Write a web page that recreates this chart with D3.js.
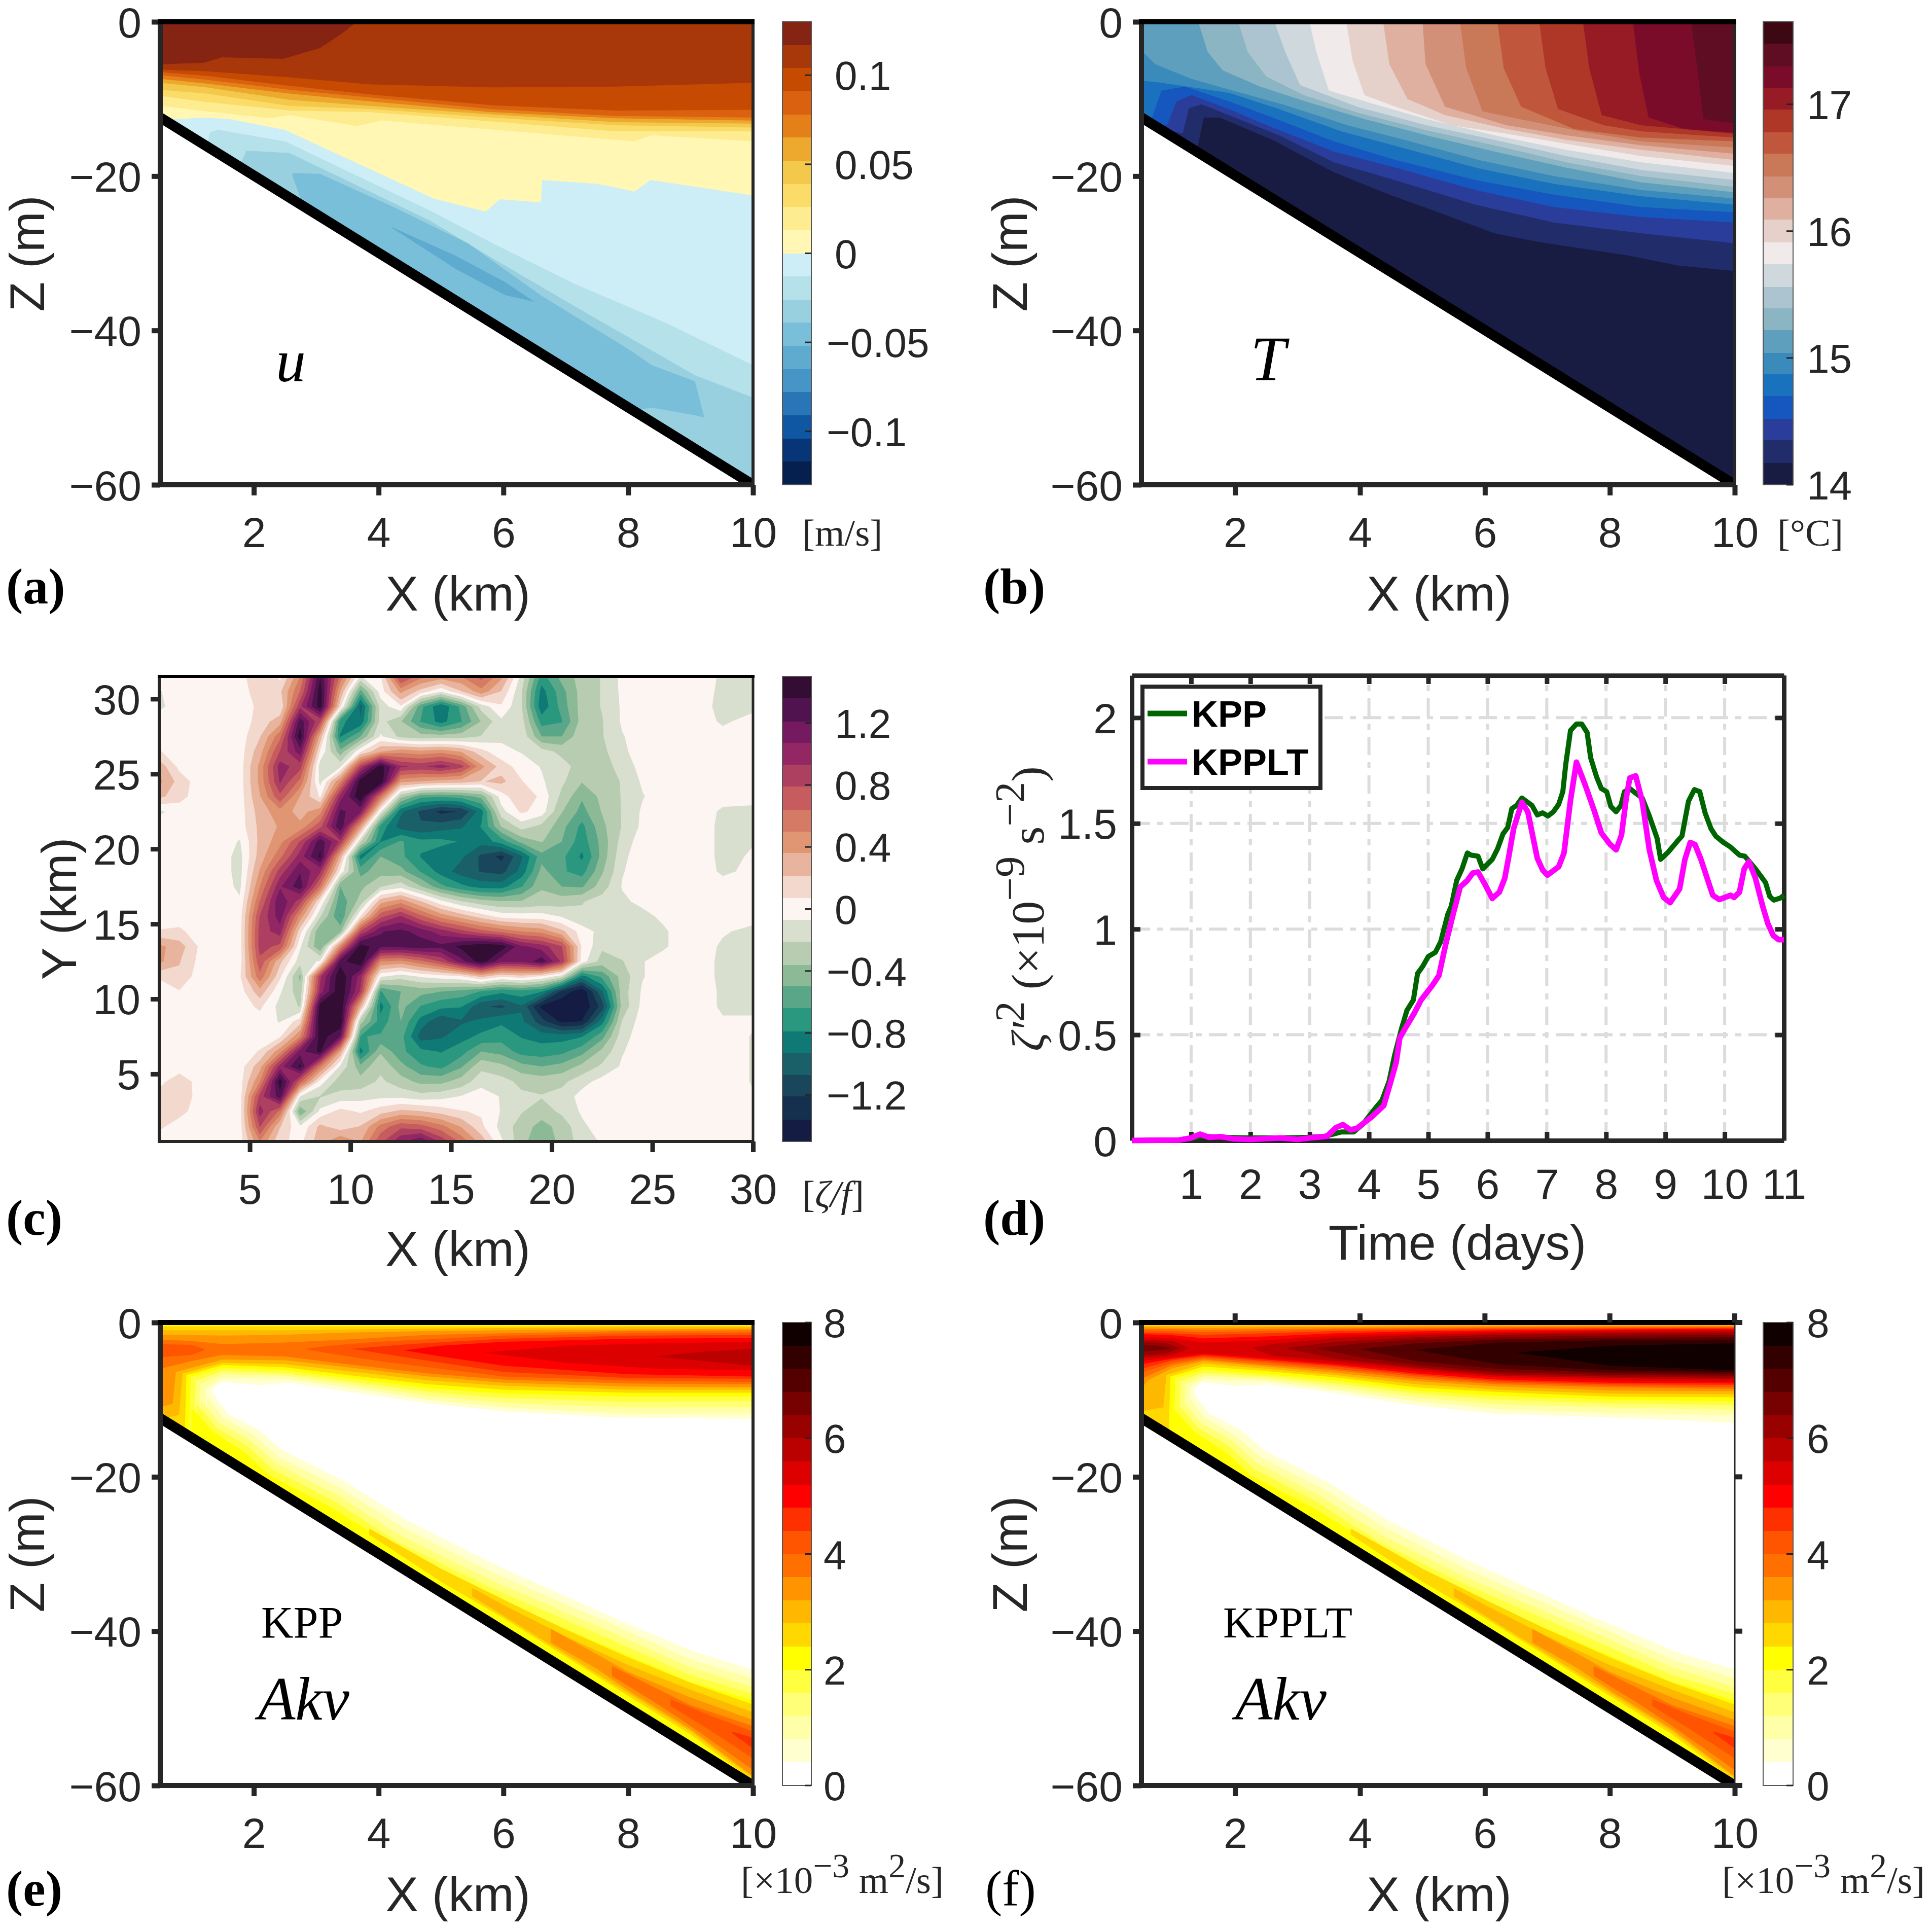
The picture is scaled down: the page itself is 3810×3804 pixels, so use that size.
<!DOCTYPE html>
<html lang="en">
<head>
    <meta charset="UTF-8">
    <title>Six panel front section</title>
    <script src="https://d3js.org/d3.v7.min.js"></script>
    <style>
        body { margin: 0; padding: 0; background: #fff; }
        text { font-family: "Liberation Sans", Arial, sans-serif; fill: #262626; }
        .tick text { font-size: 84px; }
        .serif { font-family: "Liberation Serif", "Times New Roman", serif; }
        .axis path, .axis line { stroke: #262626; fill: none; }
    </style>
</head>
<body>
    <svg width="3810" height="3804"></svg>
    <script>
        // ---- bed line of the sections
        const bedX = [0.5, 10];
        const bedZ = [-12.4, -60];

        const sectionXTicks = [2, 4, 6, 8, 10];
        const sectionZTicks = [0, -20, -40, -60];

        // ---- (a) u, band edges, colours, and isolines [x, z] from the band above the base up
        const uLevels = [-0.13, -0.117, -0.104, -0.091, -0.078, -0.065, -0.052, -0.039, -0.026, -0.013, 0,
            0.013, 0.026, 0.039, 0.052, 0.065, 0.078, 0.091, 0.104, 0.117, 0.13];
        const uColors = ["#051f4e", "#083576", "#0f57a3", "#2a75b5", "#4795c6", "#5fabd0", "#79bfd9", "#99d0df", "#b5e1ea", "#cdeef6",
            "#fff7b3", "#feec90", "#fbdc68", "#f4c84a", "#eda82e", "#e57f17", "#d9610f", "#c74a03", "#a83709", "#852412"];
        const uTicks = [-0.1, -0.05, 0, 0.05, 0.1];
        const uBase = 7;
        const uCurves = [
            [[0.5, -13], [1.7, -20], [1.88, -16.7], [2.57, -17], [3.5, -20.6], [4.83, -25.8], [5.9, -31], [7.3, -37.6], [9.07, -45.8], [10, -48.7]],
            [[0.5, -13], [1.25, -15.9], [1.3, -14.3], [1.43, -14], [2.5, -15.5], [4.83, -24.5], [5.9, -29], [7.15, -34], [8.6, -39], [10, -44.5]],
            [[0.5, -12.5], [0.84, -12.6], [1.19, -12.4], [1.6, -12.6], [2.5, -14], [4.88, -22.9], [5.72, -24.6], [5.94, -23], [6.6, -23.4], [6.62, -20.5], [7.5, -21], [8.1, -22], [8.36, -20.5], [10, -22.5]],
            [[0.5, -10.9], [1.24, -11.6], [2.27, -12.5], [2.57, -12.1], [3.65, -13.5], [4.05, -12.8], [4.98, -13.4], [8.09, -15.5], [8.38, -14.7], [10, -15.5]],
            [[0.5, -9.6], [1.24, -10.4], [2.57, -11.5], [3.85, -11.7], [5.8, -12.9], [7.8, -14.2], [10, -14.2]],
            [[0.5, -8.8], [1.24, -9.3], [2.57, -10.9], [3.85, -11.3], [5.8, -12.4], [7.8, -13.4], [10, -13.7]],
            [[0.5, -7.9], [1.24, -8.5], [2.57, -10.1], [3.85, -10.9], [5.8, -12], [7.8, -13], [10, -13.2]],
            [[0.5, -7.4], [1.24, -8], [2.57, -9.3], [3.85, -10.3], [5.8, -11.7], [7.8, -12.5], [10, -12.8]],
            [[0.5, -6.9], [1.24, -7.5], [2.57, -8.8], [3.85, -9.8], [5.8, -11.3], [7.8, -12.2], [10, -12.4]],
            [[0.5, -6.5], [1.24, -7], [2.57, -8.3], [3.85, -9.4], [5.8, -10.8], [7.8, -11.5], [10, -11.4]],
            [[0.5, -6.2], [1.24, -6.4], [2.57, -7.2], [3.85, -8.1], [5.8, -8.5], [7.8, -8.4], [10, -7.9]],
            [[0.5, -5.5], [1.2, -5.3], [1.49, -4.6], [2.47, -4.8], [3.06, -3.4], [3.4, -1.6], [3.65, 0]]
        ];
        // closed lenses near the bed: [x, upper z, lower z]
        const uLensOuter = [[2.62, -19.6, -20], [3.06, -19.7, -30], [4.24, -24, -40], [5.43, -28.7, -45], [6.61, -35.5, -47], [8, -42.4, -50.5], [8.38, -44.5, -50], [9.07, -46.6, -51], [9.22, -51.3, -51.3]];
        const uLensInner = [[4.21, -26.6, -26.7], [5.23, -30.3, -32], [6.02, -33.7, -35.4], [6.5, -36.3, -36.3]];

        // ---- (b) T
        const tLevels = [14, 14.17, 14.35, 14.52, 14.7, 14.87, 15.04, 15.22, 15.39, 15.56, 15.74, 15.91,
            16.09, 16.26, 16.43, 16.61, 16.78, 16.96, 17.13, 17.3, 17.48, 17.65];
        const tColors = ["#181c43", "#212c6b", "#2b3d9b", "#1657bf", "#1a72bf", "#3a8abb", "#5d9fbd", "#8cb5c4", "#acc4cf", "#cfd8dc", "#f0eaea",
            "#e5d1ca", "#dfb0a0", "#d39078", "#c97858", "#c0573c", "#ae3727", "#971b25", "#7a0c2a", "#5e0d22", "#3c0912"];
        const tTicks = [14, 15, 16, 17];
        const tBase = 0;
        const tCurves = [
            [[0.5, -13], [1.35, -17], [1.41, -15.8], [1.5, -12.4], [1.75, -12.4], [2.6, -15.3], [3.58, -19.5], [4.47, -22.4], [5.36, -25], [6.15, -27.4], [6.84, -28.5], [8.3, -30.3], [9.1, -31.6], [10, -32.3]],
            [[0.5, -13], [1.16, -14.5], [1.26, -11.2], [1.46, -10.7], [1.9, -12.1], [2.7, -14.7], [3.58, -18.2], [4.47, -20.3], [5.85, -23.7], [7.1, -26], [8.5, -27.4], [10, -28.7]],
            [[0.5, -13], [0.91, -13.4], [1.06, -10.3], [1.3, -9.5], [1.9, -11.3], [2.6, -13.7], [3.58, -16.8], [4.57, -18.9], [5.85, -21.8], [7.1, -24], [8.5, -25.3], [10, -26]],
            [[0.5, -13], [0.67, -12.4], [0.82, -8.9], [1.2, -8.4], [1.9, -10.3], [2.6, -12.4], [3.58, -15.5], [4.57, -17.9], [5.85, -20.5], [7.1, -22.4], [8.5, -24], [10, -24.7]],
            [[0.5, -7.6], [0.82, -7.9], [1.9, -9.2], [2.7, -11.3], [3.7, -14.2], [4.8, -16.6], [5.9, -19], [7.1, -21], [8.5, -22.6], [10, -23.7]],
            [[0.5, -3.7], [0.72, -5.5], [1.3, -7.4], [2, -9], [2.8, -10.8], [3.8, -13.4], [4.8, -15.5], [5.9, -17.9], [7.1, -20], [8.5, -21.8], [10, -22.9]],
            [[1.41, 0], [1.56, -3.9], [1.8, -6.3], [2.4, -8.4], [3.2, -10.5], [4.07, -12.6], [5.06, -14.7], [6.15, -16.8], [7.3, -18.9], [8.5, -20.8], [10, -22.1]],
            [[2.05, 0], [2.2, -3.9], [2.5, -7.1], [3.1, -9.5], [3.97, -11.8], [5.06, -14.05], [6.15, -16], [7.3, -18.2], [8.5, -20], [10, -21.4]],
            [[2.63, 0], [2.8, -3.9], [3.04, -8.2], [3.97, -11.05], [5.06, -13.4], [6.15, -15.3], [7.3, -17.4], [8.5, -19.2], [10, -20.5]],
            [[3.19, 0], [3.3, -3.9], [3.5, -8.9], [4.07, -10.3], [5.06, -12.6], [6.15, -14.7], [7.3, -16.6], [8.5, -18.2], [10, -19.6]],
            [[3.78, 0], [3.88, -5], [4.07, -9.5], [4.57, -11], [5.46, -13.4], [6.35, -14.5], [7.3, -15.8], [8.5, -17.4], [10, -18.7]],
            [[4.37, 0], [4.47, -5.5], [4.76, -10], [5.36, -12.1], [6.35, -13.9], [7.3, -15.3], [8.5, -16.6], [10, -17.9]],
            [[5, 0], [5.05, -5.5], [5.36, -11], [6.35, -13.4], [7.3, -14.7], [8.5, -16], [10, -17.1]],
            [[5.6, 0], [5.7, -6], [5.96, -11.6], [6.55, -12.6], [7.53, -14.2], [8.5, -15.5], [10, -16.3]],
            [[6.2, 0], [6.3, -6], [6.58, -11], [7.43, -13.9], [8.5, -15], [10, -15.5]],
            [[6.87, 0], [6.97, -6], [7.17, -11.3], [7.9, -13.4], [8.5, -14.2], [10, -15]],
            [[7.57, 0], [7.67, -6], [7.87, -12.1], [8.5, -13.4], [10, -14.5]],
            [[8.37, 0], [8.47, -6.6], [8.62, -12.4], [9.2, -13.9], [10, -14.4]],
            [[9.3, 0], [9.4, -6], [9.5, -12.6], [10, -13.2]]
        ];

        // ---- (c) surface vorticity, grid in hundredths of f, top row first
        const vortX = [0.5, 1.5, 2.5, 3.5, 4.5, 5.5, 6.5, 7.5, 8.5, 9.5, 10.5, 11.5, 12.5, 13.5, 14.5, 15.5, 16.5, 17.5, 18.5, 19.5, 20.5, 21.5, 22.5, 23.5, 24.5, 25.5, 26.5, 27.5, 28.5, 30];
        const vortY = [31.5, 30.5, 29.5, 28.5, 27.5, 26.5, 25.5, 24.5, 23.5, 22.5, 21.5, 20.5, 19.5, 18.5, 17.5, 16.5, 15.5, 14.5, 13.5, 12.5, 11.5, 10.5, 9.5, 8.5, 7.5, 6.5, 5.5, 4.5, 3.5, 2.5, 1.5, 0.5];
        const vortGrid = [
            [0, 0, 0, 0, 0, 22, 3, 50, 135, 60, -8, 5, 85, 55, 45, 50, 70, 40, -12, -70, -45, -30, -20, -3, 0, 0, 0, 0, -10, -10],
            [-8, 0, 0, 0, 0, 15, 18, 65, 145, 35, -55, 0, 40, 15, -5, 20, 45, 20, -20, -85, -55, -30, -20, -4, 0, 0, 0, 0, -12, -12],
            [-10, 0, 0, 0, 0, 10, 8, 90, 145, 10, -100, -15, 5, -60, -92, -60, -15, 5, -20, -90, -58, -30, -20, -5, 0, 0, 0, 0, -15, -12],
            [0, 0, 0, 0, 0, 12, 30, 130, 80, -75, -90, -15, -35, -65, -85, -65, -35, -10, -15, -70, -65, -30, -22, -5, 0, 0, 0, 0, -10, 0],
            [0, 0, 0, 0, 0, 20, 60, 145, 30, -80, -50, -5, -25, -30, -30, -28, -20, -10, -10, -50, -50, -25, -22, -8, 0, 0, 0, 0, 0, 0],
            [8, 0, 0, 0, 0, 30, 80, 115, 5, -45, 5, 35, 45, 40, 45, 35, 12, -3, -8, -15, -25, -25, -25, -10, 0, 0, 0, 0, 0, 0],
            [30, 3, 0, 0, 0, 40, 100, 85, -15, -10, 85, 145, 95, 90, 100, 85, 40, 15, 0, -8, -15, -28, -28, -15, -2, 0, 0, 0, 0, 0],
            [40, 15, 0, 0, 0, 40, 95, 60, -12, 50, 145, 150, 40, 35, 30, 28, 20, 25, 8, -5, -18, -35, -28, -20, -5, 0, 0, 0, 0, 0],
            [25, 12, 0, 0, 0, 35, 75, 35, 5, 100, 150, 60, -30, -60, -62, -58, -45, 0, 20, 3, -25, -48, -32, -20, -8, 0, 0, 0, 0, 0],
            [-10, 0, 0, 0, 0, 28, 45, 30, 45, 125, 110, -5, -90, -110, -125, -120, -85, -12, 10, 0, -35, -55, -35, -20, -5, 0, 0, 0, -10, -12],
            [0, 0, 0, 0, 0, 25, 38, 40, 75, 135, 40, -70, -100, -105, -100, -95, -78, -35, -15, -25, -45, -68, -40, -20, -4, 0, 0, 0, -12, -12],
            [0, 0, 0, 0, -8, 25, 45, 80, 130, 90, -20, -80, -62, -75, -75, -80, -88, -72, -45, -35, -50, -72, -45, -15, 0, 0, 0, 0, -12, -8],
            [0, 0, 0, 0, -12, 28, 60, 100, 140, 30, -85, -50, -60, -80, -88, -90, -110, -125, -95, -55, -60, -82, -45, -10, 0, 0, 0, 0, -12, -5],
            [0, 0, 0, 0, -12, 38, 85, 120, 95, 2, -55, -42, -45, -65, -85, -100, -108, -112, -88, -45, -62, -70, -38, -8, 0, 0, 0, 0, -10, -3],
            [0, 0, 0, 0, -10, 50, 105, 130, 60, -50, -40, -22, -12, -35, -60, -75, -85, -85, -65, -38, -50, -52, -28, -6, 0, 0, 0, 0, 0, 0],
            [0, 0, 0, 0, -5, 65, 120, 85, 5, -60, -30, 30, 45, 22, -3, -20, -30, -35, -35, -30, -28, -22, -15, -10, -3, 0, 0, 0, 0, 0],
            [0, 0, 0, 0, 0, 80, 115, 45, -20, -65, 8, 75, 95, 68, 45, 30, 15, 2, 0, 0, -8, -18, -15, -15, -12, -4, 0, 0, 0, 0],
            [8, 10, 0, 0, 0, 85, 100, 12, -50, -40, 80, 120, 125, 115, 100, 85, 70, 60, 50, 45, 25, 0, -12, -12, -12, -10, 0, 0, -5, -12],
            [40, 28, 5, 0, 0, 85, 75, -5, -50, 50, 145, 125, 125, 130, 125, 140, 150, 145, 110, 100, 80, 5, -18, -12, -12, -10, 0, 0, -10, -15],
            [40, 22, 3, 0, 0, 75, 25, -15, -5, 130, 150, 50, 45, 60, 80, 115, 145, 110, 110, 130, 90, 0, -28, -22, -8, 0, 0, 0, -12, -15],
            [10, 18, 0, 0, 5, 60, 10, -40, 90, 150, 100, -5, -15, -5, 0, 5, 25, 8, 15, 5, -15, -85, -60, -30, -8, 0, 0, 0, -12, -15],
            [-5, 6, 0, 0, 0, 30, -5, -30, 100, 150, 90, -65, -50, -45, -50, -55, -65, -75, -70, -78, -125, -148, -95, -28, -5, 0, 0, 0, -10, -10],
            [0, 0, 0, 0, 0, 10, -12, -22, 145, 150, 30, -85, -45, -65, -75, -78, -105, -110, -95, -140, -150, -150, -115, -30, -3, 0, 0, 0, -10, -10],
            [0, 0, 0, 0, 0, 0, -8, 15, 150, 150, -30, -72, -50, -85, -105, -95, -90, -82, -90, -115, -140, -135, -85, -20, 0, 0, 0, 0, -5, -5],
            [0, 0, 0, 0, 0, 0, 5, 50, 145, 120, -65, -62, -58, -100, -95, -85, -75, -70, -80, -85, -85, -80, -55, -12, 0, 0, 0, 0, 0, -8],
            [0, 0, 0, 0, 0, 8, 45, 115, 140, 35, -85, -38, -60, -75, -80, -70, -50, -55, -70, -72, -68, -55, -32, -8, 0, 0, 0, 0, 0, -8],
            [0, 0, 0, 0, 0, 30, 100, 140, 55, -10, -45, -25, -45, -62, -68, -52, -25, -32, -45, -50, -45, -32, -18, -5, 0, 0, 0, 0, 0, -8],
            [3, 15, 2, 0, 0, 50, 145, 70, 0, -30, -30, -18, -30, -40, -40, -30, -12, -15, -25, -28, -25, -12, -2, 0, 0, 0, 0, 0, 0, -8],
            [12, 20, 0, 0, 0, 85, 130, -8, -22, -15, -12, -10, -10, -15, -12, -6, 0, -8, -18, -20, -15, -2, 0, 0, 0, 0, 0, 0, 0, -6],
            [15, 12, 0, 0, 0, 100, 60, -50, -3, 12, 5, 15, 25, 22, 15, 8, 5, -8, -20, -28, -18, -5, 0, 0, 0, 0, 0, 0, 0, -5],
            [10, 0, 0, 0, 0, 80, 22, -5, 25, 12, 22, 55, 75, 70, 55, 35, 10, -12, -28, -42, -30, -10, 0, 0, 0, 0, 0, 0, 0, -3],
            [0, 0, 0, 0, 0, 50, 10, 3, 30, 50, 35, 75, 105, 120, 90, 60, 30, -5, -30, -50, -30, -15, -5, 0, 0, 0, 0, 0, 0, 0]
        ];
        const vortLevels = [-1.5, -1.36, -1.21, -1.07, -0.93, -0.79, -0.64, -0.5, -0.36, -0.21, -0.07, 0.07, 0.21, 0.36, 0.5, 0.64, 0.79, 0.93, 1.07, 1.21, 1.36, 1.5];
        const vortColors = ["#141c44", "#15304f", "#1a465b", "#196069", "#0f7a75", "#2a977f", "#5aa688", "#8cba97", "#b8ccb2", "#d9dfce", "#fdf5f2",
            "#f2d8cd", "#e8b49e", "#e19673", "#d47a65", "#c65c5e", "#ad3f60", "#922763", "#751a60", "#511350", "#340d35"];
        const vortTicks = [-1.2, -0.8, -0.4, 0, 0.4, 0.8, 1.2];
        const vortXTicks = [5, 10, 15, 20, 25, 30];
        const vortYTicks = [5, 10, 15, 20, 25, 30];

        // ---- (d) time series
        const kppDays = [0, 0.8, 1, 1.2, 1.5, 2, 2.5, 3, 3.26, 3.53, 3.74, 3.89, 4.1, 4.22, 4.34, 4.43, 4.55, 4.64, 4.75, 4.82, 4.91, 5, 5.12, 5.21, 5.33, 5.39, 5.48, 5.57, 5.66, 5.72, 5.84, 5.92, 6.08, 6.17, 6.26, 6.34, 6.41, 6.49, 6.58, 6.75, 6.84, 6.93, 7.02, 7.11, 7.2, 7.27, 7.32, 7.4, 7.5, 7.59, 7.68, 7.74, 7.84, 7.92, 8.01, 8.08, 8.17, 8.25, 8.31, 8.4, 8.49, 8.61, 8.73, 8.86, 8.92, 9.05, 9.2, 9.28, 9.39, 9.49, 9.58, 9.67, 9.77, 9.85, 9.98, 10.09, 10.25, 10.34, 10.52, 10.69, 10.76, 10.83, 10.94, 11];
        const kppVals = [0, 0.003, 0.01, 0.02, 0.015, 0.012, 0.012, 0.015, 0.02, 0.04, 0.04, 0.075, 0.15, 0.19, 0.28, 0.4, 0.53, 0.615, 0.665, 0.79, 0.825, 0.87, 0.89, 0.94, 1.07, 1.11, 1.23, 1.285, 1.36, 1.35, 1.345, 1.285, 1.33, 1.38, 1.45, 1.48, 1.57, 1.585, 1.62, 1.585, 1.54, 1.55, 1.535, 1.555, 1.59, 1.65, 1.78, 1.94, 1.97, 1.97, 1.93, 1.81, 1.72, 1.665, 1.65, 1.58, 1.555, 1.585, 1.65, 1.665, 1.645, 1.62, 1.535, 1.43, 1.33, 1.365, 1.415, 1.44, 1.605, 1.66, 1.65, 1.55, 1.475, 1.44, 1.41, 1.39, 1.35, 1.345, 1.285, 1.22, 1.155, 1.137, 1.147, 1.16];
        const ltDays = [0, 0.8, 1, 1.15, 1.3, 1.5, 1.7, 2, 2.5, 2.8, 3, 3.29, 3.44, 3.56, 3.69, 3.8, 4.04, 4.25, 4.37, 4.46, 4.52, 4.61, 4.76, 4.88, 5.06, 5.18, 5.3, 5.42, 5.54, 5.66, 5.75, 5.84, 5.96, 6.08, 6.2, 6.29, 6.35, 6.44, 6.58, 6.68, 6.84, 6.93, 7.01, 7.2, 7.29, 7.4, 7.5, 7.65, 7.8, 7.92, 8.07, 8.17, 8.26, 8.34, 8.4, 8.5, 8.61, 8.73, 8.85, 8.97, 9.08, 9.24, 9.33, 9.42, 9.5, 9.6, 9.8, 9.91, 10.1, 10.16, 10.25, 10.33, 10.41, 10.52, 10.64, 10.73, 10.82, 10.91, 11];
        const ltVals = [0, 0.002, 0.012, 0.03, 0.015, 0.018, 0.008, 0.005, 0.012, 0.005, 0.012, 0.02, 0.06, 0.075, 0.05, 0.058, 0.11, 0.165, 0.28, 0.37, 0.485, 0.53, 0.6, 0.665, 0.73, 0.78, 0.935, 1.07, 1.2, 1.23, 1.265, 1.27, 1.21, 1.145, 1.175, 1.24, 1.33, 1.475, 1.6, 1.555, 1.335, 1.28, 1.255, 1.295, 1.36, 1.61, 1.79, 1.68, 1.56, 1.455, 1.4, 1.375, 1.445, 1.62, 1.715, 1.725, 1.605, 1.375, 1.23, 1.15, 1.125, 1.19, 1.33, 1.41, 1.4, 1.33, 1.16, 1.14, 1.16, 1.15, 1.175, 1.285, 1.32, 1.24, 1.11, 1.025, 0.97, 0.95, 0.95];
        const dayTicks = [1, 2, 3, 4, 5, 6, 7, 8, 9, 10, 11];
        const enstTicks = [0, 0.5, 1, 1.5, 2];

        // ---- (e, f) Akv, per band: list of [x, upper z, lower z] patches in the surface layer
        const akvLevels = [0, 0.4, 0.8, 1.2, 1.6, 2, 2.4, 2.8, 3.2, 3.6, 4, 4.4, 4.8, 5.2, 5.6, 6, 6.4, 6.8, 7.2, 7.6, 8];
        const akvColors = ["#ffffff", "#ffffd0", "#ffffa8", "#ffff78", "#ffff40", "#ffff00", "#ffd800", "#ffb800", "#ff9400", "#ff7000", "#ff5500",
            "#ff3000", "#ff0000", "#dd0000", "#bb0000", "#990000", "#770000", "#550000", "#330000", "#100000"];
        const akvTicks = [0, 2, 4, 6, 8];
        const kppTop = [
            [[[0.5, 0, -18], [1.3, 0, -18], [1.34, 0, -8.5], [1.49, 0, -7.7], [2.08, 0, -8.1], [2.57, 0, -7.8], [3.46, 0, -8.9], [4.83, 0, -10.5], [6, 0, -11.5], [7.8, 0, -12.3], [10, 0, -12.5]]],
            [[[0.5, 0, -18], [1.2, 0, -18], [1.24, 0, -8.6], [1.5, 0, -7.2], [2.5, 0, -7.3], [3.5, 0, -8.4], [4.8, 0, -10], [6, 0, -11], [8, 0, -11.8], [10, 0, -11.8]]],
            [[[0.5, 0, -18], [1.1, 0, -18], [1.14, 0, -8], [1.5, 0, -6.7], [2.5, 0, -6.9], [3.5, 0, -8], [4.8, 0, -9.5], [6, 0, -10.4], [8, 0, -11], [10, 0, -11]]],
            [[[0.5, 0, -18], [1.03, 0, -18], [1.07, 0, -7.5], [1.5, 0, -6.3], [2.5, 0, -6.6], [3.5, 0, -7.6], [4.8, 0, -9], [6, 0, -9.8], [8, 0, -10.3], [10, 0, -10.2]]],
            [[[0.5, -0.2, -18], [0.95, -0.2, -18], [0.99, -0.2, -7], [1.5, -0.2, -5.9], [2.5, -0.2, -6.2], [3.5, -0.2, -7.2], [4.8, -0.2, -8.5], [6, -0.2, -9.2], [8, -0.2, -9.6], [10, -0.2, -9.6]]],
            [[[0.5, -0.5, -18], [0.88, -0.5, -18], [0.92, -0.5, -6.8], [1.5, -0.5, -5.5], [2.5, -0.5, -5.8], [3.5, -0.5, -6.8], [4.8, -0.5, -8], [6, -0.5, -8.7], [8, -0.4, -9.1], [10, -0.4, -9.1]]],
            [[[0.5, -1, -12.5], [0.8, -1, -12], [0.86, -1, -6.6], [1.5, -1, -5.2], [2.5, -1, -5.4], [3.5, -0.9, -6.3], [4.8, -0.8, -7.5], [6, -0.7, -8.2], [8, -0.6, -8.7], [10, -0.6, -8.7]]],
            [[[0.5, -1.6, -11], [0.7, -1.6, -10.5], [0.75, -1.6, -6.4], [1.5, -1.7, -4.8], [2.5, -1.6, -4.9], [3.5, -1.3, -5.8], [4.8, -1.1, -7], [6, -1, -7.8], [8, -0.9, -8.3], [10, -0.8, -8.4]]],
            [[[0.5, -2.2, -6], [1, -2.4, -5], [1.5, -2.8, -4.2], [2.5, -2.6, -4.4], [3.5, -2.2, -5.4], [4.8, -1.6, -6.6], [6, -1.4, -7.4], [8, -1.1, -7.9], [10, -1, -8]]],
            [[[0.5, -2.8, -4.5], [1, -2.9, -4.2], [1.2, -3.4, -3.6]],
             [[2.86, -3.4, -3.5], [3.2, -3, -4], [4, -2.5, -5], [6, -1.7, -7], [8, -1.4, -7.5], [10, -1.3, -7.7]]],
            [[[3.57, -3.4, -3.4], [4.5, -2.8, -4.6], [6, -2.1, -6.4], [8, -1.7, -7.2], [10, -1.6, -7.3]]],
            [[[4.4, -3.6, -3.6], [5, -3, -4.4], [6, -2.5, -5.6], [8, -2.1, -6.7], [10, -2, -7]]],
            [[[5.67, -3.9, -3.9], [7, -3, -5.2], [8.5, -2.7, -6], [10, -2.5, -6.2]]],
            [[[8.43, -4.4, -4.4], [9.2, -3.8, -5], [10, -3.4, -5.6]]]
        ];
        const ltTop = [
            [[[0.5, 0, -18], [1.32, 0, -18], [1.36, 0, -8.5], [1.46, 0, -7.7], [2, 0, -8.2], [2.5, 0, -8], [3.58, 0, -9.1], [4.86, 0, -10.7], [6.15, 0, -11.8], [8, 0, -12.3], [10, 0, -13]]],
            [[[0.5, 0, -18], [1.25, 0, -18], [1.28, 0, -8.3], [1.5, 0, -7.3], [2.5, 0, -7.6], [3.6, 0, -8.7], [4.9, 0, -10.2], [6.2, 0, -11.2], [8, 0, -11.7], [10, 0, -12]]],
            [[[0.5, 0, -18], [1.17, 0, -18], [1.2, 0, -8], [1.5, 0, -6.9], [2.5, 0, -7.3], [3.6, 0, -8.3], [4.9, 0, -9.7], [6.2, 0, -10.6], [8, 0, -11], [10, 0, -11.3]]],
            [[[0.5, 0, -18], [1.09, 0, -18], [1.12, 0, -7.6], [1.5, 0, -6.5], [2.5, 0, -7], [3.6, 0, -7.9], [4.9, 0, -9.2], [6.2, 0, -10], [8, 0, -10.5], [10, 0, -10.7]]],
            [[[0.5, -0.15, -18], [1.01, -0.15, -18], [1.04, -0.15, -7.2], [1.5, -0.15, -6.1], [2.5, -0.15, -6.7], [3.6, -0.15, -7.5], [4.9, -0.15, -8.8], [6.2, -0.15, -9.5], [8, -0.15, -10], [10, -0.15, -10.2]]],
            [[[0.5, -0.3, -18], [0.93, -0.3, -18], [0.96, -0.3, -7], [1.5, -0.3, -5.7], [2.5, -0.3, -6.3], [3.6, -0.25, -7.1], [4.9, -0.25, -8.4], [6.2, -0.2, -9], [8, -0.2, -9.6], [10, -0.2, -9.7]]],
            [[[0.5, -0.45, -11.5], [0.85, -0.45, -11], [0.9, -0.45, -6.8], [1.5, -0.45, -5.3], [2.5, -0.4, -6], [3.6, -0.4, -6.8], [4.9, -0.35, -8], [6.2, -0.3, -8.7], [8, -0.3, -9.2], [10, -0.3, -9.3]]],
            [[[0.5, -0.6, -8.6], [0.6, -0.6, -7.5], [1, -0.65, -5.9], [1.5, -0.7, -5], [2.5, -0.6, -5.7], [3.6, -0.55, -6.5], [4.9, -0.5, -7.6], [6.2, -0.45, -8.3], [8, -0.4, -8.8], [10, -0.4, -8.9]]],
            [[[0.5, -0.8, -7.3], [1, -0.85, -5.5], [1.5, -0.95, -4.8], [2.5, -0.85, -5.5], [3.6, -0.75, -6.2], [4.9, -0.65, -7.3], [6.2, -0.6, -8], [8, -0.55, -8.4], [10, -0.5, -8.6]]],
            [[[0.5, -1, -6.5], [1, -1.1, -5.2], [1.5, -1.25, -4.6], [2.5, -1.1, -5.2], [3.6, -0.9, -6], [4.9, -0.8, -7], [6.2, -0.7, -7.8], [8, -0.65, -8.2], [10, -0.6, -8.4]]],
            [[[0.5, -1.3, -6], [1, -1.4, -4.9], [1.5, -1.6, -4.4], [2.5, -1.4, -5], [3.6, -1.1, -5.7], [4.9, -0.95, -6.8], [6.2, -0.85, -7.6], [8, -0.75, -8], [10, -0.7, -8.1]]],
            [[[0.5, -1.5, -5.4], [1, -1.65, -4.7], [1.5, -2.05, -4.2], [2.5, -1.8, -4.8], [3.6, -1.4, -5.5], [4.9, -1.15, -6.6], [6.2, -1, -7.4], [8, -0.9, -7.8], [10, -0.8, -7.9]]],
            [[[0.5, -1.9, -5], [1, -2, -4.5], [1.5, -2.6, -4], [2.5, -2.3, -4.6], [3.6, -1.7, -5.3], [4.9, -1.4, -6.3], [6.2, -1.2, -7.1], [8, -1, -7.5], [10, -0.9, -7.7]]],
            [[[0.5, -2.2, -4.6], [1, -2.4, -4.2], [1.25, -3.2, -3.4]],
             [[2.3, -3.2, -3.4], [2.6, -2.8, -4.3], [3.6, -2, -5], [4.9, -1.6, -6], [6.2, -1.4, -6.9], [8, -1.2, -7.2], [10, -1.1, -7.4]]],
            [[[0.5, -2.5, -4.3], [0.9, -2.7, -4], [1.1, -3.3, -3.4]],
             [[2.84, -3.3, -3.4], [3.6, -2.5, -4.7], [4.9, -1.9, -5.8], [6.2, -1.6, -6.7], [8, -1.4, -7], [10, -1.3, -7.2]]],
            [[[0.5, -2.9, -3.8], [0.75, -3, -3.6], [0.95, -3.3, -3.4]],
             [[3.33, -3.3, -3.4], [4, -2.7, -4.5], [4.9, -2.2, -5.5], [6.2, -1.9, -6.4], [8, -1.7, -6.8], [10, -1.6, -6.9]]],
            [[[4.02, -3.4, -3.5], [4.9, -2.7, -5], [6.2, -2.2, -6], [8, -2, -6.5], [10, -1.9, -6.7]]],
            [[[4.91, -3.5, -3.6], [6.2, -2.6, -5.4], [8, -2.3, -6.2], [10, -2.2, -6.4]]],
            [[[6.5, -3.9, -3.9], [8, -3, -5.6], [10, -2.7, -6.2]]]
        ];
        // bottom boundary layer, nearly the same in both runs
        const akvBottom = [
            [[1.34, -9.1, -60], [1.58, -11.8, -60], [2.08, -13.9, -60], [2.47, -16.6, -60], [3.46, -20.6, -60], [4.44, -25.6, -60], [5.82, -31.2, -60], [7.8, -38.4, -60], [9.07, -42.7, -60], [10, -45, -60]],
            [[1.25, -9.5, -60], [1.5, -12.3, -60], [2, -14.6, -60], [2.4, -17.4, -60], [3.4, -21.5, -60], [4.4, -26.6, -60], [5.8, -32.3, -60], [7.8, -39.3, -60], [9, -43.7, -60], [10, -46.1, -60]],
            [[1.15, -10, -60], [1.45, -13, -60], [1.95, -15.3, -60], [2.35, -18.2, -60], [3.35, -22.4, -60], [4.35, -27.6, -60], [5.75, -33.2, -60], [7.75, -40.2, -60], [9, -44.7, -60], [10, -47.2, -60]],
            [[1.08, -10.5, -60], [1.4, -13.6, -60], [1.9, -16, -60], [2.3, -19, -60], [3.3, -23.2, -60], [4.3, -28.4, -60], [5.7, -34, -60], [7.7, -41, -60], [9, -45.7, -60], [10, -48.1, -60]],
            [[1, -11, -60], [1.35, -14.2, -60], [1.85, -16.8, -60], [2.25, -19.8, -60], [3.25, -24, -60], [4.25, -29, -60], [5.6, -34.8, -60], [7.6, -41.8, -60], [9, -46.6, -60], [10, -49, -60]],
            [[3.85, -26.7, -27.5], [5, -31.9, -33.6], [6, -35.9, -38.3], [7, -39.8, -43.3], [8, -43.4, -48.4], [9, -46.7, -53.4], [10, -49.5, -59.4]],
            [[5.5, -34.4, -35.5], [6, -36.6, -38], [7, -40.7, -43], [8, -44.4, -48], [9, -47.6, -53], [10, -50.5, -59]],
            [[6.76, -39.7, -41.5], [7.5, -43, -44.9], [8, -45.3, -47.7], [9, -48.6, -52.7], [10, -51.5, -58.8]],
            [[7.74, -44.5, -45.8], [8.5, -47.6, -49.6], [9, -49.6, -52.3], [10, -52.3, -58]],
            [[8.68, -48.8, -49.7], [9.3, -50.9, -52.8], [10, -53, -56.5]],
            [[9.66, -53, -53.2], [10, -53.8, -55.2]]
        ];

        const svg = d3.select("svg");
        const inkBlack = "#000";

        // Upper region of an isoline or a patch between two depths
        function bandArea(x, y) {
            return d3.area()
                .x(d => x(d[0]))
                .y0(d => y(d.length > 2 ? d[1] : 0))
                .y1(d => y(d[d.length - 1]));
        }

        // Colour bar with right hand inner ticks
        function colorbar(levels, colors, ticks, box, labelX, format) {
            const g = svg.append("g");
            const y = d3.scaleLinear().domain([levels[0], levels[levels.length - 1]]).range([box.bottom, box.top]);
            g.selectAll("rect.band").data(d3.pairs(levels)).join("rect")
                .attr("x", box.left).attr("width", box.right - box.left)
                .attr("y", d => y(d[1])).attr("height", d => y(d[0]) - y(d[1]))
                .attr("fill", (d, i) => colors[i]).attr("shape-rendering", "crispEdges");
            g.append("rect").attr("x", box.left).attr("y", box.top)
                .attr("width", box.right - box.left).attr("height", box.bottom - box.top)
                .attr("fill", "none").attr("stroke", "#555").attr("stroke-width", 2);
            g.selectAll("line").data(ticks).join("line")
                .attr("x1", box.right - 13).attr("x2", box.right)
                .attr("y1", d => y(d)).attr("y2", d => y(d))
                .attr("stroke", "#262626").attr("stroke-width", 3);
            g.selectAll("text").data(ticks).join("text")
                .attr("x", d => d < 0 ? labelX - 16 : labelX)
                .attr("y", d => y(d) + 29)
                .attr("font-size", 80)
                .text(format);
        }

        // Left and bottom axes in the MATLAB look
        function axes(box, x, y, xTicks, yTicks, width, fmtY) {
            const xAxis = svg.append("g").attr("class", "axis").attr("transform", `translate(0,${box.bottom})`)
                .call(d3.axisBottom(x).tickValues(xTicks).tickSize(21).tickSizeOuter(0).tickFormat(d3.format("d")));
            const yAxis = svg.append("g").attr("class", "axis").attr("transform", `translate(${box.left},0)`)
                .call(d3.axisLeft(y).tickValues(yTicks).tickSize(17).tickSizeOuter(0).tickPadding(20).tickFormat(fmtY));
            [xAxis, yAxis].forEach(a => {
                a.selectAll("path,line").attr("stroke-width", width).attr("stroke", "#262626");
                a.selectAll("text").attr("font-family", null).attr("font-size", null);
            });
            xAxis.select("path").attr("d", `M${box.left - width / 2},0H${box.right}`);
            yAxis.select("path").attr("d", `M0,${box.bottom + width / 2}V${box.top}`);
            xAxis.selectAll("text").attr("dy", 0).attr("y", 123);
            yAxis.selectAll("text").attr("dy", 30);
        }

        function label(x, y, text, size, opts = {}) {
            const t = svg.append("text").attr("x", x).attr("y", y).attr("font-size", size).text(text);
            if (opts.serif) t.attr("class", "serif");
            if (opts.bold) t.attr("font-weight", "bold");
            if (opts.italic) t.attr("font-style", "italic");
            if (opts.anchor) t.attr("text-anchor", opts.anchor);
            if (opts.fill) t.style("fill", opts.fill);
            if (opts.rotate) t.attr("transform", `rotate(-90,${x},${y})`);
            return t;
        }

        // Text built from plain, italic and raised runs
        function rich(t, runs, size) {
            t.text(null);
            let raised = false;
            runs.forEach(r => {
                const s = t.append("tspan").text(r.s);
                if (r.i) s.attr("font-style", "italic");
                if (r.sup) { s.attr("dy", -size * 0.42).attr("font-size", size * 0.9); raised = true; }
                else if (raised) { s.attr("dy", size * 0.42); raised = false; }
            });
        }

        // Section frame shared by a, b, e, f
        function section(id, box, paint, fullBox) {
            const x = d3.scaleLinear().domain([0.5, 10]).range([box.left, box.right]);
            const y = d3.scaleLinear().domain([-60, 0]).range([box.bottom, box.top]);
            svg.append("clipPath").attr("id", id).append("rect")
                .attr("x", box.left).attr("y", box.top)
                .attr("width", box.right - box.left).attr("height", box.bottom - box.top);
            const g = svg.append("g").attr("clip-path", `url(#${id})`);
            paint(g, x, y, bandArea(x, y));

            // ground below the bed
            const bed = d3.zip(bedX, bedZ);
            g.append("path").datum(bed.map(d => [d[0], d[1], -60]))
                .attr("fill", "#fff")
                .attr("d", bandArea(x, y));
            g.append("path").datum(bed)
                .attr("fill", "none").attr("stroke", inkBlack).attr("stroke-width", 20)
                .attr("d", d3.line().x(d => x(d[0])).y(d => y(d[1])));

            svg.append("line").attr("x1", box.right).attr("x2", box.right).attr("y1", box.top).attr("y2", box.bottom)
                .attr("stroke", "#262626").attr("stroke-width", fullBox ? 3 : 6);
            axes(box, x, y, sectionXTicks, sectionZTicks, 10, d => d3.format("d")(d).replace("-", "\u2212\u2009"));
            svg.append("line").attr("x1", box.left - 5).attr("x2", box.right + 3).attr("y1", box.top).attr("y2", box.top)
                .attr("stroke", inkBlack).attr("stroke-width", 10);

            if (fullBox) {
                svg.selectAll(null).data(sectionXTicks).join("line")
                    .attr("x1", d => x(d)).attr("x2", d => x(d)).attr("y1", box.top - 18).attr("y2", box.top)
                    .attr("stroke", "#262626").attr("stroke-width", 10);
                svg.selectAll(null).data(sectionZTicks).join("line")
                    .attr("x1", box.right).attr("x2", box.right + 15).attr("y1", d => y(d)).attr("y2", d => y(d))
                    .attr("stroke", "#262626").attr("stroke-width", 10);
            }
        }

        // Paint isolines, warmest on top
        function paintCurves(curves, colors, base) {
            return (g, x, y, area) => {
                g.append("rect").attr("x", x(0.5)).attr("y", y(0))
                    .attr("width", x(10) - x(0.5)).attr("height", y(-60) - y(0)).attr("fill", colors[base]);
                g.selectAll(null).data(curves).join("path")
                    .attr("fill", (d, i) => colors[base + 1 + i]).attr("d", area);
            };
        }

        function paintAkv(top) {
            return (g, x, y, area) => {
                top.forEach((patches, i) => {
                    const all = i < akvBottom.length ? patches.concat([akvBottom[i]]) : patches;
                    g.selectAll(null).data(all).join("path")
                        .attr("fill", akvColors[i + 1]).attr("d", area);
                });
            };
        }

        // ---- panel boxes
        const boxA = { left: 316, right: 1485, top: 43, bottom: 956 };
        const boxB = { left: 2251, right: 3421, top: 43, bottom: 956 };
        const boxC = { left: 314, right: 1485, top: 1334, bottom: 2251 };
        const boxD = { left: 2232, right: 3518, top: 1332, bottom: 2249 };
        const boxE = { left: 316, right: 1485, top: 2608, bottom: 3521 };
        const boxF = { left: 2251, right: 3421, top: 2608, bottom: 3521 };
        const barLeft = { left: 1543, right: 1600 };
        const barRight = { left: 3477, right: 3536 };

        // (a)
        section("clipA", boxA, (g, x, y, area) => {
            paintCurves(uCurves, uColors, uBase)(g, x, y, area);
            g.append("path").datum(uLensOuter).attr("fill", uColors[6]).attr("d", area);
            g.append("path").datum(uLensInner).attr("fill", uColors[5]).attr("d", area);
        });
        colorbar(uLevels, uColors, uTicks, { ...barLeft, top: boxA.top, bottom: boxA.bottom }, 1646,
            d => d === 0 ? "0" : String(d).replace("-", "\u2212"));
        label(903, 1204, "X (km)", 97, { anchor: "middle" });
        label(87, 500, "Z (m)", 96, { anchor: "middle", rotate: true });
        label(12, 1190, "(a)", 100, { serif: true, bold: true, fill: inkBlack });
        label(1582, 1076, "[m/s]", 75, { serif: true });
        label(544, 752, "u", 118, { serif: true, italic: true, fill: inkBlack });

        // (b)
        section("clipB", boxB, paintCurves(tCurves, tColors, tBase));
        colorbar(tLevels, tColors, tTicks, { ...barRight, top: boxB.top, bottom: boxB.bottom }, 3563, d => d);
        label(2838, 1204, "X (km)", 97, { anchor: "middle" });
        label(2025, 500, "Z (m)", 96, { anchor: "middle", rotate: true });
        label(1939, 1190, "(b)", 100, { serif: true, bold: true, fill: inkBlack });
        label(3505, 1076, "[°C]", 75, { serif: true });
        label(2466, 750, "T", 125, { serif: true, italic: true, fill: inkBlack });

        // (c)
        {
            const x = d3.scaleLinear().domain([0.5, 30]).range([boxC.left, boxC.right]);
            const y = d3.scaleLinear().domain([0.5, 31.5]).range([boxC.bottom, boxC.top]);
            const colIndex = d3.scaleLinear().domain(vortX.map((d, i) => i + 0.5)).range(vortX).clamp(true);
            const rowIndex = d3.scaleLinear().domain(vortY.map((d, i) => i + 0.5)).range(vortY).clamp(true);
            const contours = d3.contours().size([vortX.length, vortY.length])
                .thresholds(vortLevels.slice(1, -1))(vortGrid.flat().map(d => d / 100));
            const project = d3.geoTransform({
                point(px, py) { this.stream.point(x(colIndex(px)), y(rowIndex(py))); }
            });
            svg.append("clipPath").attr("id", "clipC").append("rect")
                .attr("x", boxC.left).attr("y", boxC.top)
                .attr("width", boxC.right - boxC.left).attr("height", boxC.bottom - boxC.top);
            const g = svg.append("g").attr("clip-path", "url(#clipC)");
            g.append("rect").attr("x", boxC.left).attr("y", boxC.top)
                .attr("width", boxC.right - boxC.left).attr("height", boxC.bottom - boxC.top)
                .attr("fill", vortColors[0]);
            g.selectAll("path").data(contours).join("path")
                .attr("fill", (d, i) => vortColors[i + 1])
                .attr("d", d3.geoPath(project));
            svg.append("line").attr("x1", boxC.right).attr("x2", boxC.right).attr("y1", boxC.top).attr("y2", boxC.bottom)
                .attr("stroke", "#262626").attr("stroke-width", 5);
            axes(boxC, x, y, vortXTicks, vortYTicks, 6, d3.format("d"));
            svg.selectAll(".axis").filter((d, i, n) => i >= n.length - 2).selectAll(".tick line").attr("stroke-width", 9);
            svg.append("line").attr("x1", boxC.left - 3).attr("x2", boxC.right + 3).attr("y1", boxC.top).attr("y2", boxC.top)
                .attr("stroke", inkBlack).attr("stroke-width", 6);
        }
        colorbar(vortLevels, vortColors, vortTicks, { ...barLeft, top: boxC.top, bottom: boxC.bottom }, 1646,
            d => d === 0 ? "0" : String(d).replace("-", "\u2212"));
        label(903, 2496, "X (km)", 97, { anchor: "middle" });
        label(150, 1792, "Y (km)", 96, { anchor: "middle", rotate: true });
        label(12, 2435, "(c)", 100, { serif: true, bold: true, fill: inkBlack });
        rich(label(1582, 2380, "", 75, { serif: true }), [{ s: "[" }, { s: "ζ/f", i: true }, { s: "]" }], 75);

        // (d)
        {
            const x = d3.scaleLinear().domain([0, 11]).range([boxD.left, boxD.right]);
            const y = d3.scaleLinear().domain([0, 2.2]).range([boxD.bottom, boxD.top]);
            const grid = svg.append("g").attr("stroke", "#dcdcdc").attr("stroke-width", 6)
                .attr("stroke-dasharray", "36,14,12,14");
            grid.selectAll(null).data(dayTicks.slice(0, -1)).join("line")
                .attr("x1", d => x(d)).attr("x2", d => x(d)).attr("y1", boxD.bottom).attr("y2", boxD.top);
            grid.selectAll(null).data(enstTicks.slice(1)).join("line")
                .attr("x1", boxD.left).attr("x2", boxD.right).attr("y1", d => y(d)).attr("y2", d => y(d));

            const ticks = [
                [d3.axisBottom(x).tickValues(dayTicks).tickFormat(d => d), `translate(0,${boxD.bottom})`],
                [d3.axisTop(x).tickValues(dayTicks), `translate(0,${boxD.top})`],
                [d3.axisLeft(y).tickValues(enstTicks).tickFormat(d => d), `translate(${boxD.left},0)`],
                [d3.axisRight(y).tickValues(enstTicks), `translate(${boxD.right},0)`]
            ];
            ticks.forEach(([axis, at], i) => {
                const a = svg.append("g").attr("class", "axis").attr("transform", at)
                    .call(axis.tickSize(-17).tickSizeOuter(0));
                a.selectAll("path,line").attr("stroke", "#262626").attr("stroke-width", 9);
                a.selectAll("text").attr("font-family", null).attr("font-size", null);
                if (i === 0) a.selectAll("text").attr("dy", 0).attr("y", 115);
                else if (i === 2) a.selectAll("text").attr("dy", 30).attr("x", -29);
                else a.selectAll("text").remove();
            });

            const line = d3.line().x(d => x(d[0])).y(d => y(d[1]));
            svg.append("path").datum(d3.zip(kppDays, kppVals))
                .attr("fill", "none").attr("stroke", "#006400").attr("stroke-width", 10).attr("stroke-linejoin", "round")
                .attr("d", line);
            svg.append("path").datum(d3.zip(ltDays, ltVals))
                .attr("fill", "none").attr("stroke", "#ff00ff").attr("stroke-width", 11).attr("stroke-linejoin", "round")
                .attr("d", line);

            // legend
            svg.append("rect").attr("x", 2253).attr("y", 1354).attr("width", 351).attr("height", 200)
                .attr("fill", "#fff").attr("stroke", "#262626").attr("stroke-width", 8);
            [["KPP", "#006400", 1407], ["KPPLT", "#ff00ff", 1502]].forEach(d => {
                svg.append("line").attr("x1", 2263).attr("x2", 2341).attr("y1", d[2]).attr("y2", d[2])
                    .attr("stroke", d[1]).attr("stroke-width", 11);
                label(2350, d[2] + 26, d[0], 72, { bold: true, fill: inkBlack });
            });
        }
        label(2874, 2484, "Time (days)", 97, { anchor: "middle" });
        label(1939, 2435, "(d)", 100, { serif: true, bold: true, fill: inkBlack });
        rich(label(2058, 1792, "", 92, { serif: true, anchor: "middle", rotate: true }),
            [{ s: "ζ′", i: true }, { s: "2", sup: true }, { s: " (×10" }, { s: "−9", sup: true }, { s: " s" }, { s: "−2", sup: true }, { s: ")" }], 92);

        // (e)
        section("clipE", boxE, paintAkv(kppTop));
        colorbar(akvLevels, akvColors, akvTicks, { ...barLeft, top: boxE.top, bottom: boxE.bottom }, 1624, d => d);
        label(903, 3769, "X (km)", 97, { anchor: "middle" });
        label(87, 3065, "Z (m)", 96, { anchor: "middle", rotate: true });
        label(12, 3758, "(e)", 100, { serif: true, fill: inkBlack, bold: true });
        rich(label(1461, 3733, "", 75, { serif: true }), [{ s: "[×10" }, { s: "−3", sup: true }, { s: " m" }, { s: "2", sup: true }, { s: "/s]" }], 75);
        label(515, 3229, "KPP", 88, { serif: true, fill: inkBlack });
        label(509, 3391, "Akv", 120, { serif: true, italic: true, fill: inkBlack });

        // (f)
        section("clipF", boxF, paintAkv(ltTop), true);
        colorbar(akvLevels, akvColors, akvTicks, { ...barRight, top: boxF.top, bottom: boxF.bottom }, 3563, d => d);
        label(2838, 3769, "X (km)", 97, { anchor: "middle" });
        label(2025, 3065, "Z (m)", 96, { anchor: "middle", rotate: true });
        label(1943, 3758, "(f)", 100, { serif: true, fill: inkBlack });
        rich(label(3396, 3733, "", 75, { serif: true }), [{ s: "[×10" }, { s: "−3", sup: true }, { s: " m" }, { s: "2", sup: true }, { s: "/s]" }], 75);
        label(2412, 3229, "KPPLT", 86, { serif: true, fill: inkBlack });
        label(2436, 3391, "Akv", 120, { serif: true, italic: true, fill: inkBlack });
    </script>
</body>
</html>
